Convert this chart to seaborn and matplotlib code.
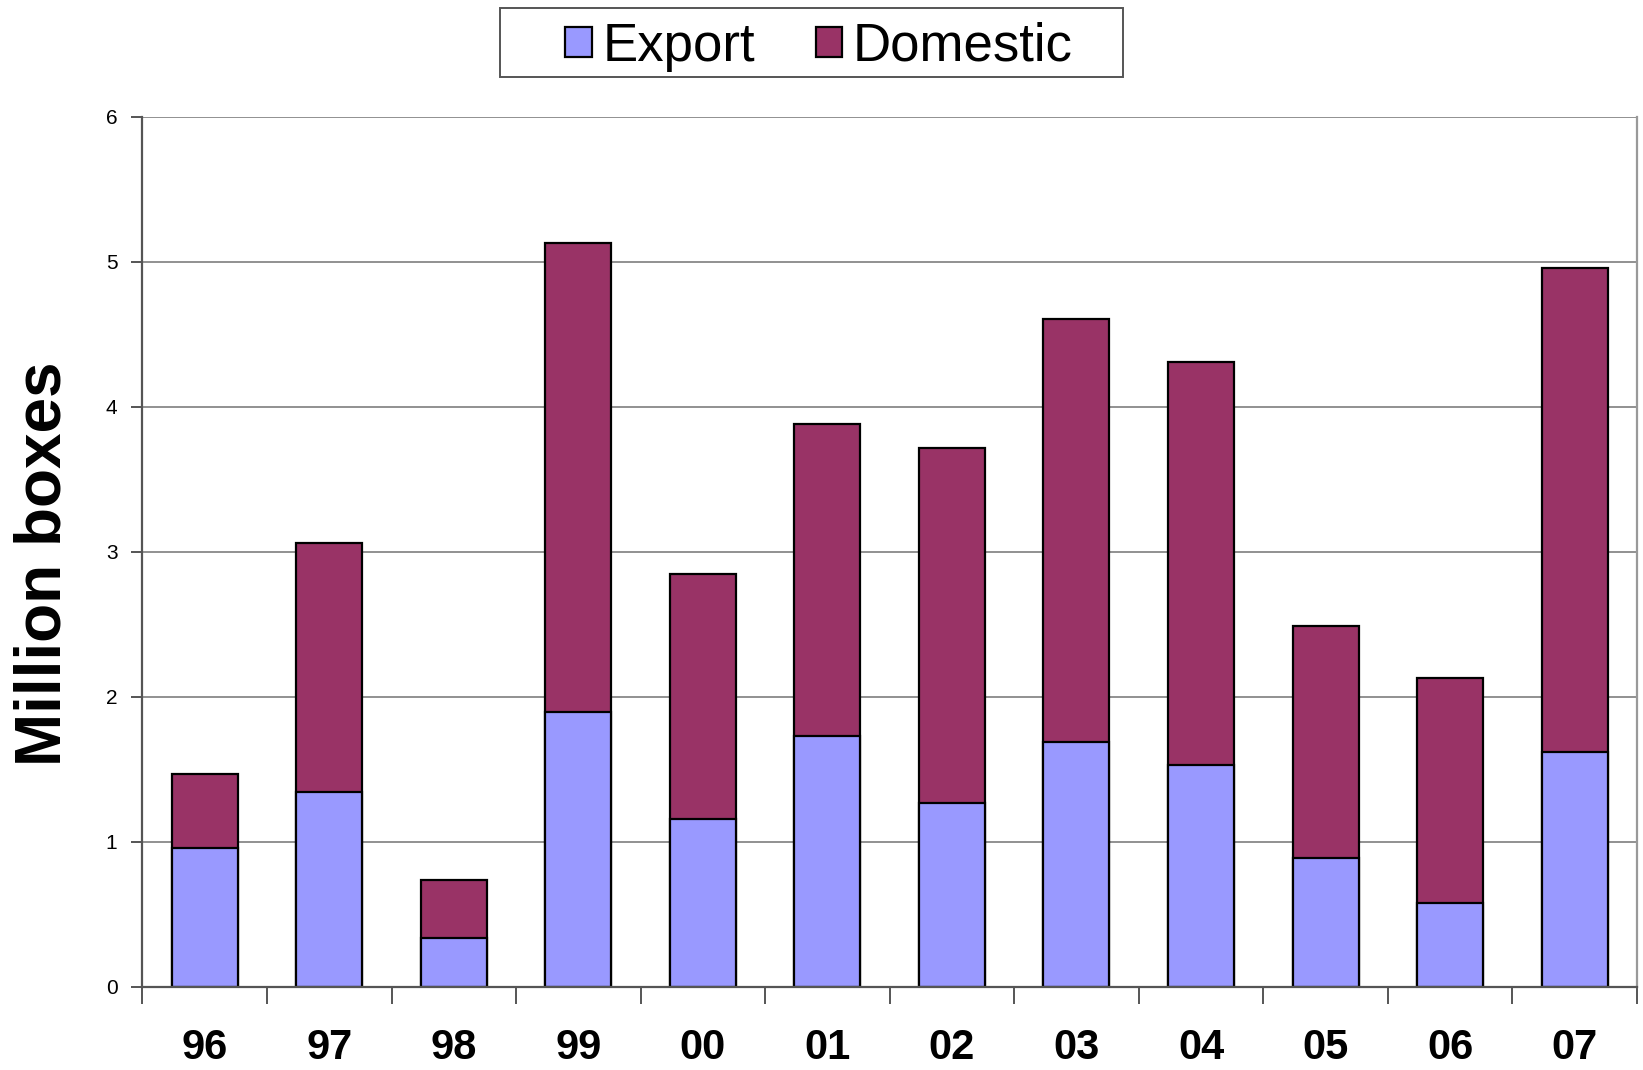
import matplotlib
matplotlib.use("Agg")
import matplotlib.pyplot as plt
import seaborn as sns
import pandas as pd
from matplotlib.patches import Patch, Rectangle
from matplotlib.ticker import FixedLocator

years = ["96", "97", "98", "99", "00", "01", "02", "03", "04", "05", "06", "07"]
export = [0.96, 1.345, 0.34, 1.895, 1.157, 1.73, 1.27, 1.69, 1.53, 0.89, 0.58, 1.62]
total = [1.47, 3.06, 0.74, 5.13, 2.85, 3.88, 3.72, 4.61, 4.31, 2.49, 2.13, 4.96]
domestic = [t - e for t, e in zip(total, export)]

EXPORT_C = "#9999FF"
DOM_C = "#993366"

sns.set_style("white")
plt.rcParams["font.family"] = ["Liberation Sans", "DejaVu Sans"]
plt.rcParams["text.color"] = "black"
plt.rcParams["axes.labelcolor"] = "black"
plt.rcParams["xtick.color"] = "black"
plt.rcParams["ytick.color"] = "black"

df = pd.DataFrame({"year": years, "export": export, "domestic": domestic,
                   "total": [e + d for e, d in zip(export, domestic)]})

fig = plt.figure(figsize=(16.43, 10.70), dpi=100)
ax = fig.add_axes([0.0867, 0.0776, 0.9096, 0.8131])

sns.barplot(data=df, x="year", y="total", order=years, color=DOM_C,
            edgecolor="black", linewidth=1.6, width=0.53, saturation=1, ax=ax)
sns.barplot(data=df, x="year", y="export", order=years, color=EXPORT_C,
            edgecolor="black", linewidth=1.6, width=0.53, saturation=1, ax=ax)

ax.set_xlim(-0.5, len(years) - 0.5)
ax.set_ylim(0, 6)
ax.set_yticks(range(0, 7))
ax.yaxis.grid(True, color="#888888", linewidth=1.3)
ax.set_axisbelow(True)

for side in ["left", "bottom"]:
    ax.spines[side].set_color("#555555")
    ax.spines[side].set_linewidth(1.6)
ax.spines["right"].set_color("#999999")
ax.spines["right"].set_linewidth(1.6)
ax.spines["top"].set_visible(False)

ax.tick_params(axis="y", which="major", left=True, length=8, width=1.4,
               color="#555555", labelsize=15, pad=10, labelcolor="black")
ax.tick_params(axis="x", which="major", bottom=False, labelsize=30, pad=26,
               labelcolor="black")
ax.xaxis.set_minor_locator(FixedLocator([i - 0.5 for i in range(len(years) + 1)]))
ax.tick_params(axis="x", which="minor", bottom=True, length=12, width=1.4,
               color="#555555", direction="out")
for lab in ax.get_xticklabels():
    lab.set_fontweight("bold")

ax.set_xlabel("")
ax.set_ylabel("Million boxes", fontsize=46, fontweight="bold", color="black")
ax.yaxis.set_label_coords(-0.046, 0.486)

# legend frame (box) drawn as a figure rectangle
fig.patches.append(Rectangle((0.3043, 0.9276), 0.3792, 0.0645, transform=fig.transFigure,
                             facecolor="white", edgecolor="#555555", linewidth=1.4,
                             zorder=0))

handles = [Patch(facecolor=EXPORT_C, edgecolor="black", linewidth=1.6, label="Export"),
           Patch(facecolor=DOM_C, edgecolor="black", linewidth=1.6, label="Domestic")]
leg = fig.legend(handles=handles, loc="center", bbox_to_anchor=(0.4985, 0.9565),
                 ncol=2, fontsize=38, frameon=False,
                 handlelength=0.5, handleheight=0.5, handletextpad=0.2,
                 columnspacing=1.16, borderpad=0, borderaxespad=0)
for t in leg.get_texts():
    t.set_color("black")

fig.savefig("out.png", dpi=100)
